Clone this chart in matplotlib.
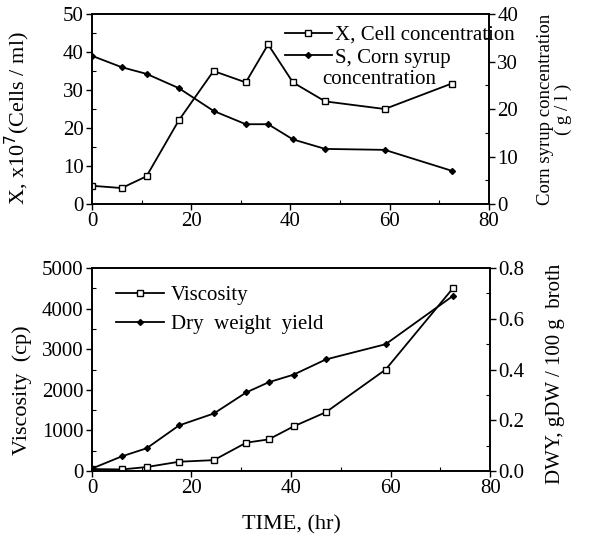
import numpy as np
import matplotlib
matplotlib.use('Agg')
import matplotlib.pyplot as plt
from matplotlib.ticker import MultipleLocator

plt.rcParams['font.family'] = ['Liberation Serif', 'DejaVu Serif']
plt.rcParams['font.size'] = 15

# time points (hr)
time = [0, 6, 11, 17.5, 24.5, 31, 35.5, 40.5, 47, 59, 72.5]

# top panel
cell_conc = [4.8, 4.2, 7.3, 22, 35, 32, 42, 32, 27, 25, 31.7]        # x10^7 cells/ml
syrup_conc = [31.2, 28.8, 27.4, 24.4, 19.6, 16.8, 16.8, 13.6, 11.6, 11.4, 7.0]  # g/l

# bottom panel
viscosity = [50, 40, 100, 230, 270, 700, 780, 1100, 1450, 2500, 4500]   # cp
dwy = [0.01, 0.058, 0.09, 0.18, 0.227, 0.31, 0.35, 0.38, 0.44, 0.50, 0.69]  # gDW/100g broth

fig = plt.figure(figsize=(5.97, 5.39), dpi=100)

def style_axis(ax):
    ax.tick_params(which='major', direction='out', length=4, width=1.0, pad=2)
    ax.tick_params(which='minor', direction='in', length=3, width=0.8)
    for s in ax.spines.values():
        s.set_linewidth(1.2)

# ---- top
ax1 = fig.add_axes([0.154, 0.6215, 0.665, 0.3525])
l1, = ax1.plot(time, cell_conc, color='black', lw=1.3, marker='s', ms=4,
               mfc='white', mec='black', mew=1.0, label='X, Cell concentration')
ax1.set_xlim(0, 80)
ax1.set_ylim(0, 50)
ax1.xaxis.set_major_locator(MultipleLocator(20))
ax1.xaxis.set_minor_locator(MultipleLocator(10))
ax1.yaxis.set_major_locator(MultipleLocator(10))
ax1.yaxis.set_minor_locator(MultipleLocator(5))
ax1.set_ylabel(r'X, x10$^7$(Cells / ml)', fontsize=16)
ax1.yaxis.set_label_coords(-0.15, 0.45)
style_axis(ax1)

ax1r = ax1.twinx()
l2, = ax1r.plot(time, syrup_conc, color='black', lw=1.3, marker='D', ms=3,
                mfc='black', mec='black', label='S, Corn syrup')
ax1r.set_ylim(0, 40)
ax1r.yaxis.set_major_locator(MultipleLocator(10))
ax1r.yaxis.set_minor_locator(MultipleLocator(5))
ax1r.set_ylabel('Corn syrup concentration\n( g / l )', fontsize=13.5, linespacing=1.05)
ax1r.yaxis.set_label_coords(1.12, 0.5)
style_axis(ax1r)
ax1r.legend([l1, l2], [l1.get_label(), l2.get_label()], loc='upper left',
            bbox_to_anchor=(0.486, 0.94), frameon=False, handlelength=2.25,
            handletextpad=0.15, labelspacing=0.15, borderpad=0.0,
            borderaxespad=0.0)
ax1r.text(0.58, 0.655, 'concentration', transform=ax1r.transAxes,
          ha='left', va='center')

# ---- bottom
ax2 = fig.add_axes([0.154, 0.126, 0.667, 0.3766])
l3, = ax2.plot(time, viscosity, color='black', lw=1.3, marker='s', ms=4,
               mfc='white', mec='black', mew=1.0, label='Viscosity')
ax2.set_xlim(0, 80)
ax2.set_ylim(0, 5000)
ax2.xaxis.set_major_locator(MultipleLocator(20))
ax2.xaxis.set_minor_locator(MultipleLocator(10))
ax2.yaxis.set_major_locator(MultipleLocator(1000))
ax2.yaxis.set_minor_locator(MultipleLocator(500))
ax2.set_ylabel('Viscosity  (cp)', fontsize=16)
ax2.yaxis.set_label_coords(-0.15, 0.4)
ax2.set_xlabel('TIME, (hr)', fontsize=16, labelpad=12)
style_axis(ax2)

ax2r = ax2.twinx()
l4, = ax2r.plot(time, dwy, color='black', lw=1.3, marker='D', ms=3,
                mfc='black', mec='black', label='Dry  weight  yield')
ax2r.set_ylim(0, 0.8)
ax2r.yaxis.set_major_locator(MultipleLocator(0.2))
ax2r.yaxis.set_minor_locator(MultipleLocator(0.1))
ax2r.yaxis.set_major_formatter(plt.FormatStrFormatter('%.1f'))
ax2r.set_ylabel('DWY, gDW / 100 g  broth', fontsize=15)
ax2r.yaxis.set_label_coords(1.14, 0.48)
style_axis(ax2r)
ax2r.legend([l3, l4], [l3.get_label(), l4.get_label()], loc='upper left',
            bbox_to_anchor=(0.06, 0.915), frameon=False, handlelength=2.3,
            handletextpad=0.35, labelspacing=0.45, borderpad=0.0,
            borderaxespad=0.0)

fig.savefig('out.png', dpi=100)
